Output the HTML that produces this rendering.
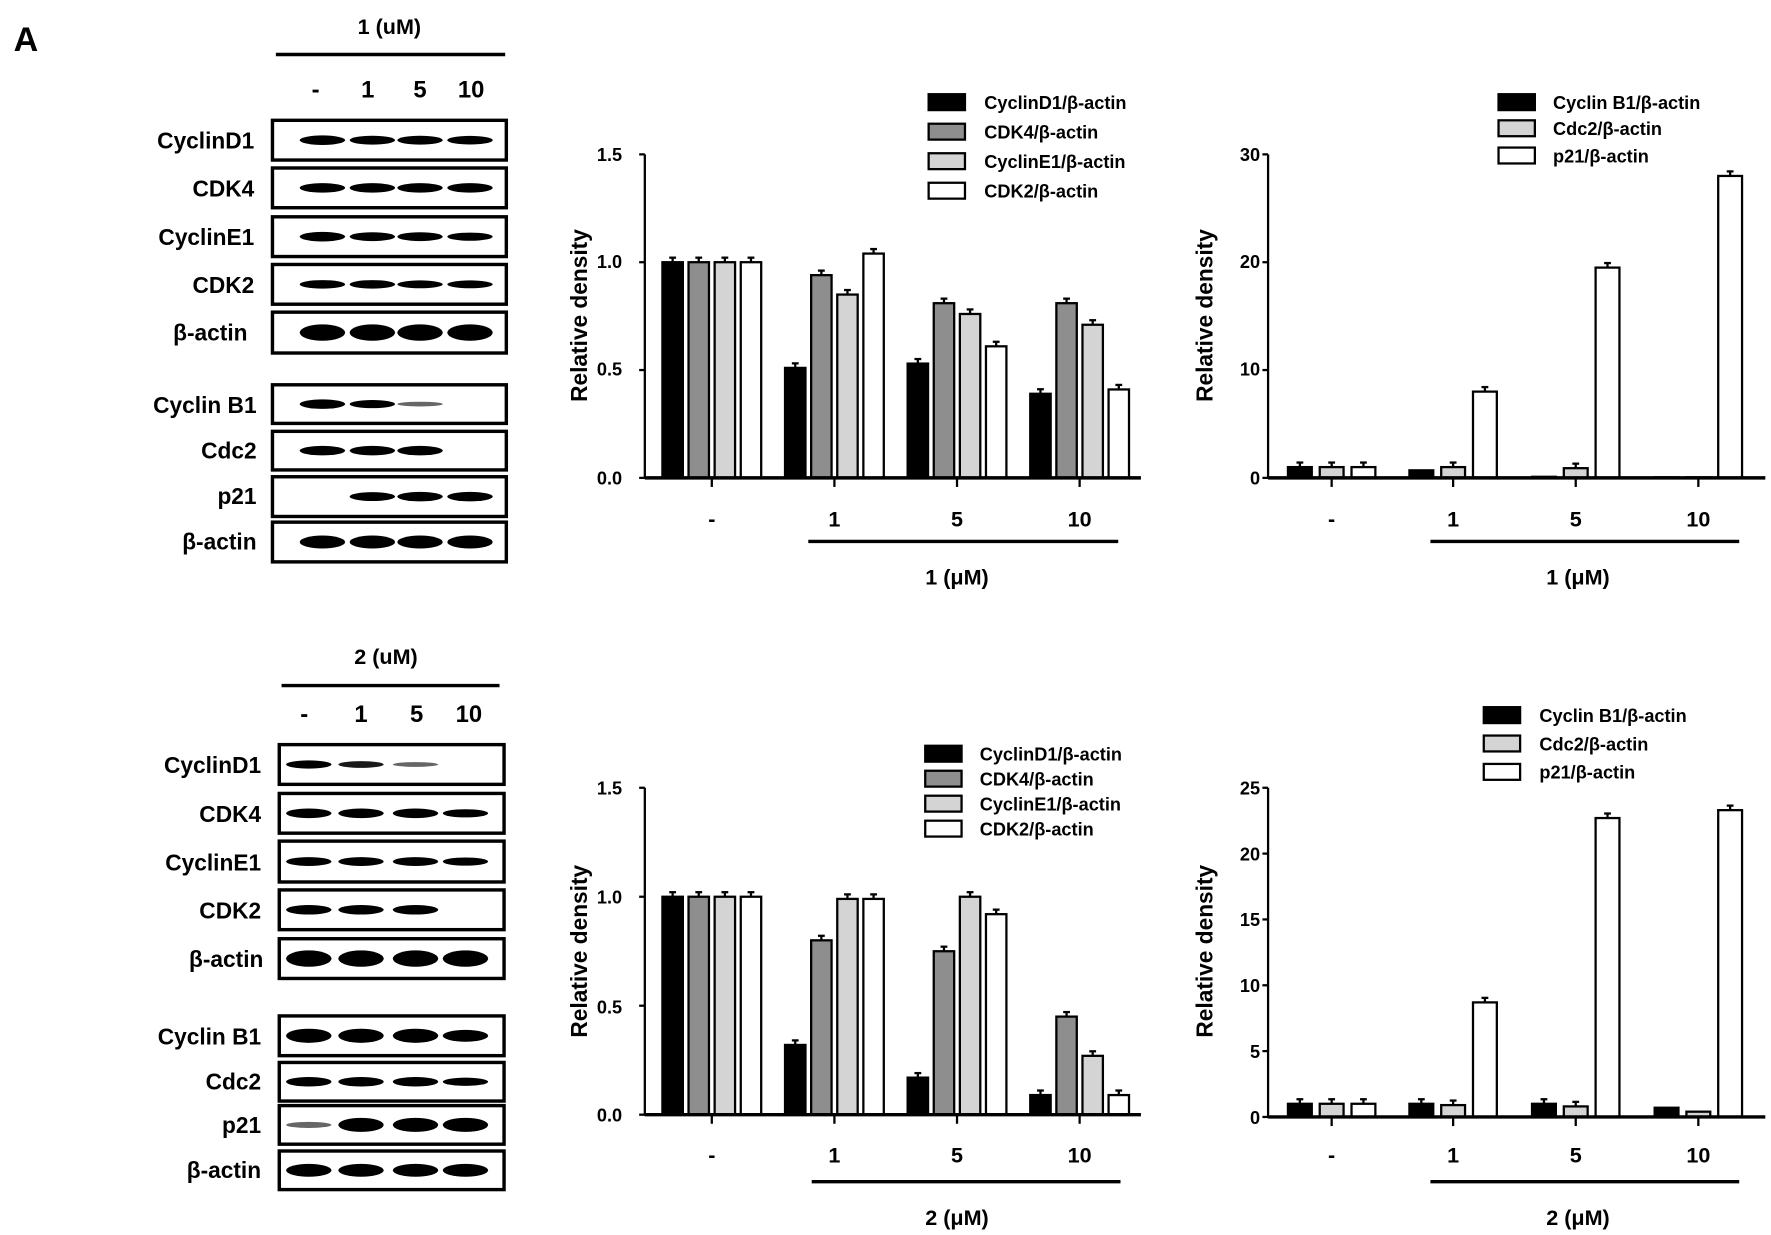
<!DOCTYPE html>
<html><head><meta charset="utf-8"><style>
html,body{margin:0;padding:0;background:#fff}
svg{display:block}
text{font-family:"Liberation Sans",Arial,sans-serif;font-weight:bold;fill:#000}
</style></head><body>
<svg id="s" width="1771" height="1235" viewBox="0 0 1560 1088" preserveAspectRatio="none" xmlns="http://www.w3.org/2000/svg">
<rect width="1560" height="1088" fill="#fff"/>
<text x="12" y="45" font-size="30">A</text>
<text x="343" y="30" font-size="19" text-anchor="middle">1 (uM)</text>
<line x1="243" y1="48" x2="445" y2="48" stroke="#000" stroke-width="3"/>
<g font-size="21" text-anchor="middle"><text x="278" y="86">-</text><text x="324" y="86">1</text><text x="370" y="86">5</text><text x="415" y="86">10</text></g>
<g font-size="20" text-anchor="end">
<text x="224" y="131">CyclinD1</text><text x="224" y="173">CDK4</text><text x="224" y="216">CyclinE1</text><text x="224" y="258">CDK2</text><text x="218" y="300">β-actin</text>
<text x="226" y="364">Cyclin B1</text><text x="226" y="404">Cdc2</text><text x="226" y="444">p21</text><text x="226" y="484">β-actin</text>
</g>
<text x="340" y="585" font-size="19" text-anchor="middle">2 (uM)</text>
<line x1="248" y1="604" x2="440" y2="604" stroke="#000" stroke-width="3"/>
<g font-size="21" text-anchor="middle"><text x="268" y="636">-</text><text x="318" y="636">1</text><text x="367" y="636">5</text><text x="413" y="636">10</text></g>
<g font-size="20" text-anchor="end">
<text x="230" y="681">CyclinD1</text><text x="230" y="724">CDK4</text><text x="230" y="767">CyclinE1</text><text x="230" y="809">CDK2</text><text x="232" y="852">β-actin</text>
<text x="230" y="920">Cyclin B1</text><text x="230" y="960">Cdc2</text><text x="230" y="998">p21</text><text x="230" y="1038">β-actin</text>
</g>
<g id="blots"></g>
<g id="charts"></g>
<g font-size="16">
<text x="548" y="142" text-anchor="end">1.5</text><text x="548" y="236" text-anchor="end">1.0</text><text x="548" y="331" text-anchor="end">0.5</text><text x="548" y="427" text-anchor="end">0.0</text>
<text x="548" y="700" text-anchor="end">1.5</text><text x="548" y="796" text-anchor="end">1.0</text><text x="548" y="893" text-anchor="end">0.5</text><text x="548" y="988" text-anchor="end">0.0</text>
<text x="1110" y="142" text-anchor="end">30</text><text x="1110" y="236" text-anchor="end">20</text><text x="1110" y="331" text-anchor="end">10</text><text x="1110" y="427" text-anchor="end">0</text>
<text x="1110" y="700" text-anchor="end">25</text><text x="1110" y="758" text-anchor="end">20</text><text x="1110" y="816" text-anchor="end">15</text><text x="1110" y="874" text-anchor="end">10</text><text x="1110" y="932" text-anchor="end">5</text><text x="1110" y="990" text-anchor="end">0</text>
</g>
<g font-size="20" text-anchor="middle">
<text transform="translate(517,278) rotate(-90)">Relative density</text>
<text transform="translate(517,838) rotate(-90)">Relative density</text>
<text transform="translate(1068,278) rotate(-90)">Relative density</text>
<text transform="translate(1068,838) rotate(-90)">Relative density</text>
</g>
<g font-size="19" text-anchor="middle">
<text x="627" y="464">-</text><text x="735" y="464">1</text><text x="843" y="464">5</text><text x="951" y="464">10</text>
<text x="1173" y="464">-</text><text x="1280" y="464">1</text><text x="1388" y="464">5</text><text x="1496" y="464">10</text>
<text x="627" y="1024">-</text><text x="735" y="1024">1</text><text x="843" y="1024">5</text><text x="951" y="1024">10</text>
<text x="1173" y="1024">-</text><text x="1280" y="1024">1</text><text x="1388" y="1024">5</text><text x="1496" y="1024">10</text>
<text x="843" y="515">1 (μM)</text><text x="1390" y="515">1 (μM)</text>
<text x="843" y="1079">2 (μM)</text><text x="1390" y="1079">2 (μM)</text>
</g>
<g font-size="16">
<text x="867" y="96">CyclinD1/β-actin</text><text x="867" y="122">CDK4/β-actin</text><text x="867" y="148">CyclinE1/β-actin</text><text x="867" y="174">CDK2/β-actin</text>
<text x="1368" y="96">Cyclin B1/β-actin</text><text x="1368" y="119">Cdc2/β-actin</text><text x="1368" y="143">p21/β-actin</text>
<text x="863" y="670">CyclinD1/β-actin</text><text x="863" y="692">CDK4/β-actin</text><text x="863" y="714">CyclinE1/β-actin</text><text x="863" y="736">CDK2/β-actin</text>
<text x="1356" y="636">Cyclin B1/β-actin</text><text x="1356" y="661">Cdc2/β-actin</text><text x="1356" y="686">p21/β-actin</text>
</g>
</svg>
<script>
var NS="http://www.w3.org/2000/svg";
function el(p,t,a){var e=document.createElementNS(NS,t);for(var k in a)e.setAttribute(k,a[k]);p.appendChild(e);return e;}
var B=document.getElementById("blots"),C=document.getElementById("charts");
function blot(x1,x2,lanes,rows){rows.forEach(function(r){
 el(B,"rect",{x:x1,y:r[0],width:x2-x1,height:r[1]-r[0],fill:"#fff",stroke:"#000","stroke-width":3});
 var cy=(r[0]+r[1])/2;
 r[2].forEach(function(v,i){if(v>0)el(B,"ellipse",{cx:lanes[i],cy:cy,rx:20,ry:(r[3]||3)*v+1.2,fill:"#000",opacity:Math.min(1,0.3+v)});});
});}
blot(240,446,[284,328,370,414],[
[106,141,[1,.9,.9,.85]],[148,183,[1,1,1,1]],[191,226,[1,.9,.9,.8]],[233,268,[.85,.85,.75,.75]],[275,311,[1,1,1,1],6],
[339,373,[1,.8,.3,0]],[380,414,[1,1,1,0]],[420,455,[0,.9,1,1]],[460,495,[1,1,1,1],4.5]]);
blot(246,444,[272,318,366,410],[
[656,691,[.8,.6,.3,0]],[699,734,[1,1,1,.8]],[741,777,[.9,.9,.9,.8]],[784,819,[1,1,1,0]],[827,862,[1,1,1,1],6],
[895,930,[1,1,1,.8],5],[936,970,[1,1,1,.8]],[974,1008,[.3,1,1,1],5],[1014,1048,[1,1,1,1],4.5]]);
var F4=["#000","#8e8e8e","#d4d4d4","#fff"],F3=["#000","#d4d4d4","#fff"];
function chart(o){
 var g=o.groups;
 o.vals.forEach(function(gv,gi){gv.forEach(function(v,bi){
  var cx=g[gi]+o.off[bi],h=v*o.k,top=o.y0-h;
  el(C,"rect",{x:cx-o.w/2,y:top,width:o.w,height:h,fill:o.fills[bi],stroke:"#000","stroke-width":2});
  if(v>0.03*o.max){el(C,"line",{x1:cx,y1:top,x2:cx,y2:top-4,stroke:"#000","stroke-width":2});
   el(C,"line",{x1:cx-3,y1:top-4,x2:cx+3,y2:top-4,stroke:"#000","stroke-width":2});}
 });});
 el(C,"line",{x1:o.ax,y1:o.ytop,x2:o.ax,y2:o.y0+1,stroke:"#000","stroke-width":2});
 el(C,"line",{x1:o.ax,y1:o.y0,x2:o.xe,y2:o.y0,stroke:"#000","stroke-width":3});
 o.ticks.forEach(function(t){var y=o.y0-t*o.k;el(C,"line",{x1:o.ax-5,y1:y,x2:o.ax,y2:y,stroke:"#000","stroke-width":2});});
 g.forEach(function(x){el(C,"line",{x1:x,y1:o.y0,x2:x,y2:o.y0+8,stroke:"#000","stroke-width":2});});
 el(C,"line",{x1:o.lx1,y1:o.ly,x2:o.lx2,y2:o.ly,stroke:"#000","stroke-width":3});
 o.leg.forEach(function(y,i){el(C,"rect",{x:o.legx,y:y-7,width:32,height:14,fill:o.fills[i],stroke:"#000","stroke-width":2});});
}
var G=[627,735,843,951],G2=[1173,1280,1388,1496];
chart({groups:G,off:[-34.5,-11.5,11.5,34.5],w:18,fills:F4,k:190,y0:421,ytop:136,ax:568,xe:1005,max:1.5,ticks:[0,.5,1,1.5],
 vals:[[1,1,1,1],[.51,.94,.85,1.04],[.53,.81,.76,.61],[.39,.81,.71,.41]],lx1:712,lx2:985,ly:477,legx:818,leg:[90,116,142,168]});
chart({groups:G,off:[-34.5,-11.5,11.5,34.5],w:18,fills:F4,k:192,y0:982,ytop:694,ax:568,xe:1005,max:1.5,ticks:[0,.5,1,1.5],
 vals:[[1,1,1,1],[.32,.80,.99,.99],[.17,.75,1.0,.92],[.09,.45,.27,.09]],lx1:715,lx2:987,ly:1041,legx:815,leg:[664,686,708,730]});
chart({groups:G2,off:[-28,0,28],w:21,fills:F3,k:9.5,y0:421,ytop:136,ax:1117,xe:1555,max:30,ticks:[0,10,20,30],
 vals:[[1,1,1],[.7,1,8],[.1,.9,19.5],[.05,.05,28]],lx1:1260,lx2:1532,ly:477,legx:1320,leg:[90,113,137]});
chart({groups:G2,off:[-28,0,28],w:21,fills:F3,k:11.6,y0:984,ytop:694,ax:1117,xe:1555,max:25,ticks:[0,5,10,15,20,25],
 vals:[[1,1,1],[1,.9,8.7],[1,.8,22.7],[.7,.4,23.3]],lx1:1260,lx2:1532,ly:1041,legx:1307,leg:[630,655,680]});
</script>
</body></html>
